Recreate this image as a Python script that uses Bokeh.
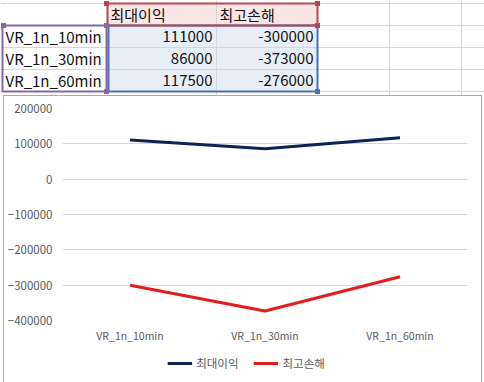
from bokeh.plotting import figure
from bokeh.models import FactorRange, Range1d, FixedTicker, Legend, LegendItem, BasicTickFormatter
from bokeh.embed import file_html
from bokeh.resources import INLINE
from bokeh.core.properties import value

# ---------------- data ----------------
categories = ["VR_1n_10min", "VR_1n_30min", "VR_1n_60min"]
series_names = ["최대이익", "최고손해"]
max_profit = [111000, 86000, 117500]
max_loss = [-300000, -373000, -276000]
y_ticks = [-400000, -300000, -200000, -100000, 0, 100000, 200000]

FONT = "Noto Sans CJK KR"
NAVY = "#0b2356"
RED = "#e41c1c"

# ---------------- spreadsheet part ----------------
W, TH = 484, 95
col_edges = [0, 107, 216, 317, 389, 461, 484]
row_edges = [3, 25, 47, 69, 91]
GRID = "#d6d6d6"

t = figure(width=W, height=TH, x_range=Range1d(0, W), y_range=Range1d(TH, 0),
           toolbar_location=None, output_backend="svg", min_border=0)
t.axis.visible = False
t.grid.visible = False
t.outline_line_color = None

# fills
t.quad(left=[col_edges[1]], right=[col_edges[3]], top=[row_edges[0]], bottom=[row_edges[1]],
       fill_color="#fbe6e6", line_color=None)
t.quad(left=[col_edges[1]], right=[col_edges[3]], top=[row_edges[1]], bottom=[row_edges[4]],
       fill_color="#e8eef8", line_color=None)

# sheet gridlines
vx = col_edges[1:-1]
t.segment(x0=vx, x1=vx, y0=[0] * len(vx), y1=[TH] * len(vx), line_color=GRID, line_width=1)
t.segment(x0=[0] * len(row_edges), x1=[W] * len(row_edges), y0=row_edges, y1=row_edges,
          line_color=GRID, line_width=1)

# texts
rows_y = [(row_edges[i] + row_edges[i + 1]) / 2 for i in range(4)]
t.text(x=[col_edges[1] + 3, col_edges[2] + 3], y=[rows_y[0]] * 2, text=series_names,
       text_font=value(FONT), text_font_size="15px", text_align="left",
       text_baseline="middle", text_color="#111111")
t.text(x=[5] * 3, y=rows_y[1:], text=categories,
       text_font=value(FONT), text_font_size="15px", text_align="left",
       text_baseline="middle", text_color="#111111")
t.text(x=[col_edges[2] - 4] * 3, y=rows_y[1:], text=[str(v) for v in max_profit],
       text_font=value(FONT), text_font_size="15px", text_align="right",
       text_baseline="middle", text_color="#111111")
t.text(x=[col_edges[3] - 4] * 3, y=rows_y[1:], text=[str(v) for v in max_loss],
       text_font=value(FONT), text_font_size="15px", text_align="right",
       text_baseline="middle", text_color="#111111")

# range highlight borders
PURPLE, BLUE, DRED = "#8566a8", "#4a72a8", "#b5464f"
t.quad(left=[2], right=[col_edges[1] - 1], top=[row_edges[1]], bottom=[row_edges[4]],
       fill_color=None, line_color=PURPLE, line_width=2)
t.quad(left=[col_edges[1] + 1], right=[col_edges[3]], top=[row_edges[1]], bottom=[row_edges[4]],
       fill_color=None, line_color=BLUE, line_width=2)
t.quad(left=[col_edges[1]], right=[col_edges[3]], top=[row_edges[0]], bottom=[row_edges[1]],
       fill_color=None, line_color=DRED, line_width=2)
# corner squares
t.rect(x=[col_edges[1] - 1, col_edges[3], col_edges[3]], y=[row_edges[0], row_edges[0], row_edges[1]],
       width=5, height=5, fill_color=DRED, line_color=None)
t.rect(x=[3, col_edges[1] - 1, col_edges[1] - 1], y=[row_edges[1], row_edges[1], row_edges[4]],
       width=5, height=5, fill_color=PURPLE, line_color=None)
t.rect(x=[col_edges[3]], y=[row_edges[4]], width=5, height=5, fill_color=BLUE, line_color=None)

# ---------------- chart part ----------------
p = figure(x_range=FactorRange(*categories, range_padding=0),
           y_range=Range1d(y_ticks[0], y_ticks[-1]),
           frame_width=405, frame_height=212, toolbar_location=None, output_backend="svg",
           min_border_left=58, min_border_right=14, min_border_top=12, min_border_bottom=62)
p.styles = {"border": "1px solid #a9a9a9", "margin-left": "3px"}
p.outline_line_color = None
p.xgrid.visible = False
p.ygrid.grid_line_color = "#d9d9d9"
p.ygrid.grid_line_width = 1

p.yaxis.ticker = FixedTicker(ticks=y_ticks)
p.yaxis.formatter = BasicTickFormatter(use_scientific=False)
for ax in (p.xaxis[0], p.yaxis[0]):
    ax.axis_line_color = None
    ax.major_tick_line_color = None
    ax.minor_tick_line_color = None
    ax.major_tick_out = 0
    ax.minor_tick_out = 0
    ax.axis_label_standoff = 0
    ax.major_label_text_color = "#595959"
    ax.major_label_text_font = FONT
p.yaxis.major_label_standoff = 10
p.xaxis.major_label_standoff = 7
p.yaxis.major_label_text_font_size = "11.5px"
p.xaxis.major_label_text_font_size = "10.5px"

p.line(x=categories, y=max_profit, line_color=NAVY, line_width=3)
p.line(x=categories, y=max_loss, line_color=RED, line_width=3)

# ---------------- legend (own small canvas placed under the category labels) ----------------
lg = figure(x_range=FactorRange(*categories), y_range=Range1d(1e9, 2e9),
            width=200, height=24, toolbar_location=None, output_backend="svg", min_border=0)
lg.styles = {"position": "absolute", "left": "146px", "top": "351px"}
lg.axis.visible = False
lg.grid.visible = False
lg.outline_line_color = None
lg.background_fill_alpha = 0
lg.border_fill_alpha = 0
l1 = lg.line(x=categories, y=max_profit, line_color=NAVY, line_width=3)
l2 = lg.line(x=categories, y=max_loss, line_color=RED, line_width=3)
legend = Legend(items=[LegendItem(label=series_names[0], renderers=[l1]),
                       LegendItem(label=series_names[1], renderers=[l2])],
                orientation="horizontal", location="center",
                border_line_color=None, background_fill_alpha=0,
                label_text_font=FONT, label_text_font_size="11.5px", label_text_color="#595959",
                glyph_width=25, glyph_height=14, label_standoff=4, spacing=15,
                padding=0, margin=0)
lg.add_layout(legend)

open("out.html", "w").write(file_html([t, p, lg], INLINE))
